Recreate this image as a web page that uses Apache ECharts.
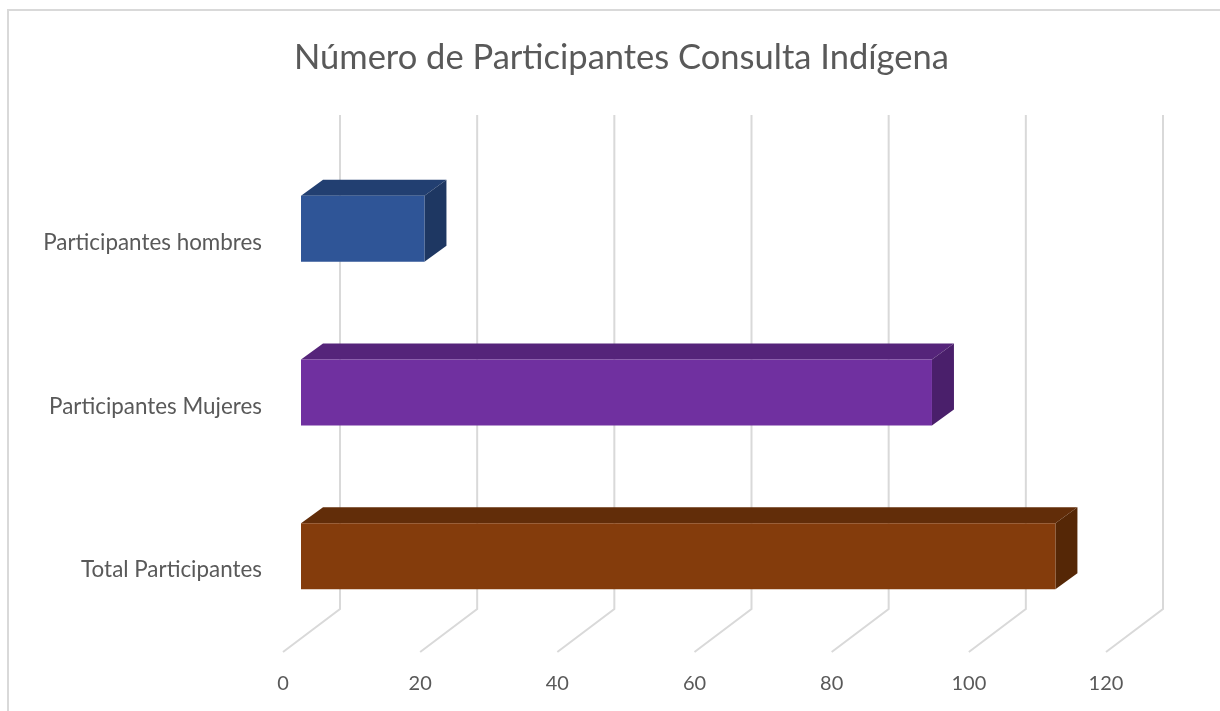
<!DOCTYPE html>
<html>
<head>
<meta charset="utf-8">
<title>Número de Participantes Consulta Indígena</title>
<script src="https://cdn.jsdelivr.net/npm/echarts@6/dist/echarts.min.js"></script>
<style>
  html, body { margin: 0; padding: 0; background: #fff; }
  #chart { width: 1220px; height: 711px; }
</style>
</head>
<body>
<div id="chart"></div>
<script>
// datos
var categorias = ["Participantes hombres", "Participantes Mujeres", "Total Participantes"];
var valores = [18, 92, 110];
var ticksX = [0, 20, 40, 60, 80, 100, 120];
// colores: frente, tapa, lado
var coloresFrente = ["#2F5597", "#7030A0", "#843C0C"];
var coloresTapa = ["#223F71", "#55247A", "#622D09"];
var coloresLado = ["#1E3762", "#4A1F6B", "#552706"];

// desplazamientos del efecto 3D (px)
var FRENTE_DX = 18, FRENTE_DY = -14;
var FONDO_DX = 22, FONDO_DY = -16;
var PARED_DX = 57, PARED_DY = -43, PARED_TOP = -46;

var myChart = echarts.init(document.getElementById("chart"));

function renderGrid(params, api) {
  var cs = params.coordSys;
  var x = api.coord([api.value(0), 0])[0];
  var yFloor = cs.y + cs.height;
  return {
    type: "polyline",
    shape: {
      points: [
        [x + PARED_DX, cs.y + PARED_TOP],
        [x + PARED_DX, yFloor + PARED_DY],
        [x, yFloor]
      ]
    },
    style: { stroke: "#D9D9D9", lineWidth: 2, fill: null }
  };
}

function renderBar(params, api) {
  var i = api.value(1);
  var start = api.coord([0, i]);
  var end = api.coord([api.value(0), i]);
  var h = api.size([0, 1])[1] * 0.403;
  var x1 = start[0] + FRENTE_DX;
  var x2 = end[0] + FRENTE_DX;
  var y1 = start[1] + FRENTE_DY - h / 2;
  var y2 = y1 + h;
  return {
    type: "group",
    children: [
      {
        // tapa
        type: "polygon",
        shape: { points: [[x1, y1], [x1 + FONDO_DX, y1 + FONDO_DY], [x2 + FONDO_DX, y1 + FONDO_DY], [x2, y1]] },
        style: { fill: coloresTapa[i] }
      },
      {
        // lado
        type: "polygon",
        shape: { points: [[x2, y1], [x2 + FONDO_DX, y1 + FONDO_DY], [x2 + FONDO_DX, y2 + FONDO_DY], [x2, y2]] },
        style: { fill: coloresLado[i] }
      },
      {
        // frente
        type: "rect",
        shape: { x: x1, y: y1, width: x2 - x1, height: h },
        style: { fill: coloresFrente[i] }
      }
    ]
  };
}

myChart.setOption({
  animation: false,
  title: {
    text: "Número de Participantes Consulta Indígena",
    left: 289,
    top: 35,
    textStyle: {
      fontFamily: "Lato",
      fontWeight: "normal",
      fontSize: 34.5,
      color: "#595959"
    }
  },
  graphic: [
    {
      // borde del área del gráfico
      type: "polyline",
      shape: { points: [[8, 800], [8, 10], [1300, 10]] },
      style: { stroke: "#D9D9D9", lineWidth: 2, fill: null }
    }
  ],
  grid: {
    left: 283,
    right: 114,
    top: 161,
    bottom: 59
  },
  xAxis: {
    type: "value",
    min: 0,
    max: 120,
    interval: 20,
    axisLine: { show: false },
    axisTick: { show: false },
    splitLine: { show: false },
    axisLabel: {
      margin: 22,
      fontFamily: "Lato",
      fontSize: 20,
      color: "#595959"
    }
  },
  yAxis: {
    type: "category",
    data: categorias,
    inverse: true,
    axisLine: { show: false },
    axisTick: { show: false },
    splitLine: { show: false },
    axisLabel: {
      margin: 21,
      fontFamily: "Lato",
      fontSize: 22.4,
      color: "#595959"
    }
  },
  series: [
    {
      type: "custom",
      name: "rejilla",
      z: 1,
      silent: true,
      renderItem: renderGrid,
      data: ticksX.map(function (t) { return [t, 0]; })
    },
    {
      type: "custom",
      name: "Participantes",
      z: 2,
      renderItem: renderBar,
      encode: { x: 0, y: 1 },
      data: valores.map(function (v, i) { return [v, i]; })
    }
  ]
});
</script>
</body>
</html>
